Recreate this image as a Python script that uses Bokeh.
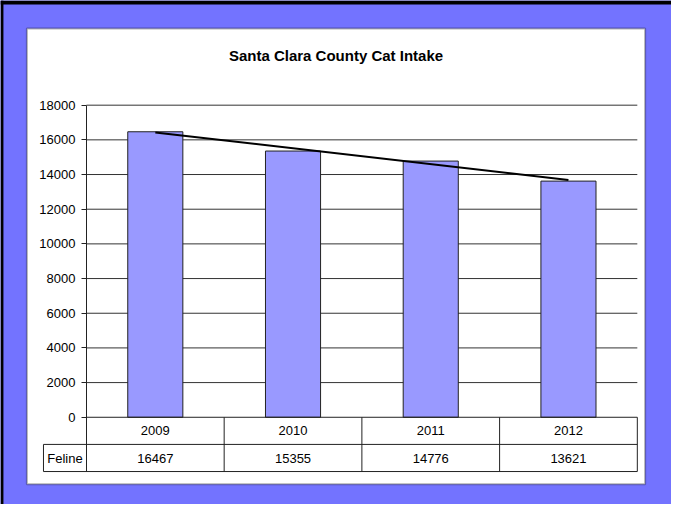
from bokeh.plotting import figure
from bokeh.models import Range1d, LinearAxis, FixedTicker, BoxAnnotation
from bokeh.core.properties import value
from bokeh.embed import file_html
from bokeh.resources import INLINE
import numpy as np

# ---- data ----
title_text = "Santa Clara County Cat Intake"
years = ["2009", "2010", "2011", "2012"]
feline = [16467, 15355, 14776, 13621]
series_name = "Feline"
y_ticks = [0, 2000, 4000, 6000, 8000, 10000, 12000, 14000, 16000, 18000]

# ---- layout helpers (reference pixels -> data units) ----
W, H = 671, 504                 # canvas size (fits the 687x520 window with 8px margin)
RW, RH = 687, 520               # reference picture size mapped onto the canvas
PX0, PXU = 88.0, 141.0          # ref x of left of first category, px per category
PY0, PYV = 430.0, 322.0 / 18000  # ref y of value 0, px per unit value


def ux(px):
    return (px - PX0) / PXU


def vy(py):
    return (PY0 - py) / PYV


FONT = "Liberation Sans"
BLUE = "#7373FF"

p = figure(width=W, height=H, output_backend="svg", toolbar_location=None,
           x_axis_type=None, y_axis_type=None,
           x_range=Range1d(ux(0), ux(RW)),
           y_range=Range1d(vy(RH), vy(0)),
           min_border=0, min_border_left=0, min_border_right=0,
           min_border_top=0, min_border_bottom=0)
p.outline_line_color = None
p.background_fill_color = BLUE
p.border_fill_color = BLUE
p.xgrid.visible = False
p.ygrid.visible = False

# white chart panel
panel = BoxAnnotation(left=ux(27), right=ux(660), top=vy(29), bottom=vy(499),
                      fill_color="white", fill_alpha=1.0, line_color="black",
                      line_width=2, level="underlay")
p.add_layout(panel)

# outer black edge (top / left)
edge_left = BoxAnnotation(left=ux(0), right=ux(3), top=vy(0), bottom=vy(RH),
                          fill_color="black", fill_alpha=1.0, line_color=None, level="underlay")
edge_top = BoxAnnotation(left=ux(0), right=ux(RW), top=vy(0), bottom=vy(4),
                         fill_color="black", fill_alpha=1.0, line_color=None, level="underlay")
p.add_layout(edge_left)
p.add_layout(edge_top)

n = len(years)
left_edge = 0.0
right_edge = float(n)
centers = np.arange(n) + 0.5

# horizontal grid lines
grid_y = y_ticks[1:]
p.segment(x0=[left_edge] * len(grid_y), y0=grid_y, x1=[right_edge] * len(grid_y), y1=grid_y,
          line_color="#333333", line_width=1)

# bars
p.vbar(x=centers, top=feline, bottom=0, width=0.4, fill_color="#9999FF",
       line_color="#222222", line_width=1)

# linear trend line
coef = np.polyfit(np.arange(n), feline, 1)
trend = np.polyval(coef, np.arange(n))
p.line(x=[centers[0], centers[-1]], y=[trend[0], trend[-1]], line_color="black", line_width=2)

# y axis
yaxis = LinearAxis(ticker=FixedTicker(ticks=y_ticks), fixed_location=left_edge,
                   bounds=(vy(486), 18000))
yaxis.axis_line_color = "#222222"
yaxis.major_tick_line_color = "#222222"
yaxis.major_tick_in = 0
yaxis.major_tick_out = 5
yaxis.minor_tick_line_color = None
yaxis.major_label_standoff = 6
yaxis.major_label_text_font = FONT
yaxis.major_label_text_font_size = "13px"
yaxis.major_label_text_color = "black"
p.add_layout(yaxis, "left")

# data table below the plot
row_top, row_mid, row_bot = vy(430), vy(458), vy(486)
name_left = ux(44)
hx0 = [left_edge, name_left, name_left]
hx1 = [right_edge, right_edge, right_edge]
hy = [row_top, row_mid, row_bot]
p.segment(x0=hx0, y0=hy, x1=hx1, y1=hy, line_color="#222222", line_width=1)
vx = [1.0, 2.0, 3.0, right_edge, name_left]
vy0 = [row_top, row_top, row_top, row_top, row_mid]
vy1 = [row_bot] * 5
p.segment(x0=vx, y0=vy0, x1=vx, y1=vy1, line_color="#222222", line_width=1)

p.text(x=centers, y=[vy(444)] * n, text=years, text_align="center", text_baseline="middle",
       text_font=value(FONT), text_font_size="13px", text_color="black")
p.text(x=centers, y=[vy(472.5)] * n, text=[str(v) for v in feline], text_align="center",
       text_baseline="middle", text_font=value(FONT), text_font_size="13px", text_color="black")
p.text(x=[ux(66)], y=[vy(472.5)], text=[series_name], text_align="center", text_baseline="middle",
       text_font=value(FONT), text_font_size="13px", text_color="black")

# title
p.text(x=[ux(343.5)], y=[vy(57)], text=[title_text], text_align="center", text_baseline="middle",
       text_font=value(FONT), text_font_size="15px", text_font_style="bold", text_color="black")

open("out.html", "w").write(file_html(p, INLINE))
